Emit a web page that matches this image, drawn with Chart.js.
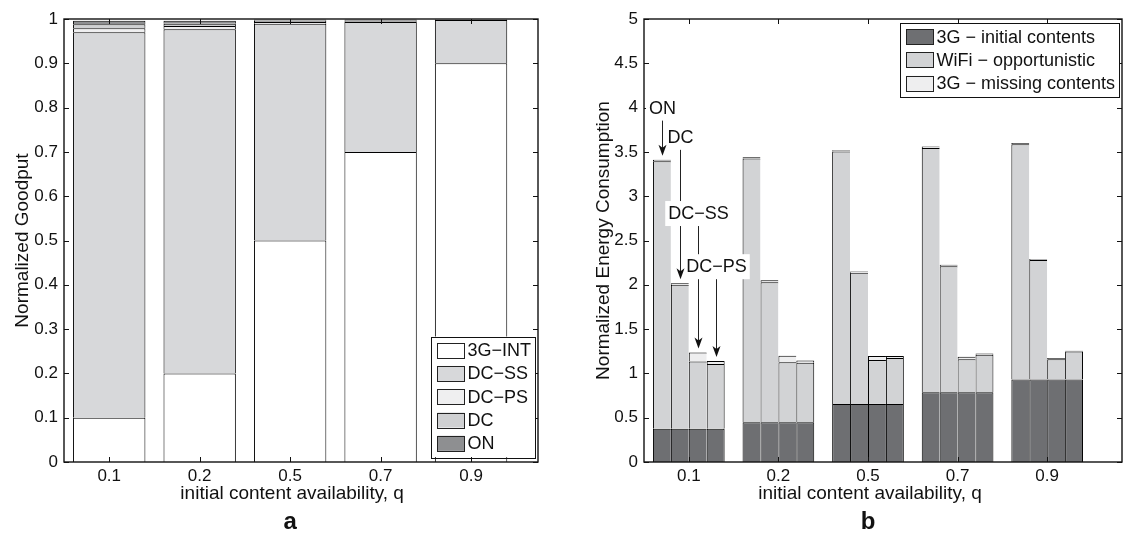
<!DOCTYPE html>
<html>
<head>
<meta charset="utf-8">
<script src="https://cdn.jsdelivr.net/npm/chart.js@4.4.1/dist/chart.umd.min.js"></script>
<style>
  html, body { margin: 0; padding: 0; background: #fff; overflow: hidden; }
  body { width: 1130px; height: 543px; position: relative; }
  canvas { position: absolute; top: 0; }
  #goodput { left: 0; }
  #energy { left: 560px; }
</style>
</head>
<body>
<canvas id="goodput" width="560" height="543"></canvas>
<canvas id="energy" width="570" height="543"></canvas>
<script>
const FONT = '"Liberation Sans", Arial, Helvetica, sans-serif';
const INK = '#111';

const qLabels = ['0.1', '0.2', '0.5', '0.7', '0.9'];
const xTitle = 'initial content availability, q';

// (a) normalized goodput, stacked bottom to top
const goodputSeries = ['3G\u2212INT', 'DC\u2212SS', 'DC\u2212PS', 'DC', 'ON'];
const gp3gInt = [0.1, 0.2, 0.5, 0.7, 0.9];
const gpDcSs  = [0.870, 0.777, 0.489, 0.293, 0.098];
const gpDcPs  = [0.009, 0.007, 0.004, 0.002, 0.001];
const gpDc    = [0.009, 0.005, 0.003, 0.002, 0.0005];
const gpOn    = [0.008, 0.007, 0.003, 0.002, 0.0005];
const gpColors = ['#ffffff', '#d7d8da', '#efeff0', '#cfd0d2', '#8e8f91'];

// (b) normalized energy, one stacked bar per scheme in each group
const schemes = ['ON', 'DC', 'DC\u2212SS', 'DC\u2212PS'];
const energyParts = ['3G \u2212 initial contents', 'WiFi \u2212 opportunistic', '3G \u2212 missing contents'];
const initial3G = [0.376, 0.45, 0.656, 0.787, 0.93];
const wifiOn    = [3.019, 2.975, 2.849, 2.758, 2.655];
const wifiDc    = [1.624, 1.58, 1.481, 1.423, 1.35];
const wifiDcSs  = [0.759, 0.675, 0.494, 0.373, 0.23];
const wifiDcPs  = [0.729, 0.67, 0.517, 0.423, 0.317];
const missOn    = [0.015, 0.015, 0.015, 0.015, 0.015];
const missDc    = [0.017, 0.02, 0.013, 0.016, 0.01];
const missDcSs  = [0.1, 0.075, 0.045, 0.027, 0.013];
const missDcPs  = [0.035, 0.025, 0.022, 0.015, 0.008];
const energyColors = ['#6e6f72', '#d2d3d5', '#eeeeef'];

// arrow labels over the q = 0.1 group, height in data units
const arrowLabelY = [4.0, 3.67, 2.81, 2.21];

Chart.defaults.font.family = FONT;
Chart.defaults.color = INK;

// MATLAB-style box: frame plus inward ticks on all four sides
const axesBox = {
  id: 'axesBox',
  afterDatasetsDraw(chart) {
    const {ctx, chartArea: a, scales: {x, y}} = chart;
    const L = 5;
    ctx.save();
    ctx.strokeStyle = '#111';
    ctx.lineWidth = 1;
    ctx.beginPath();
    x.ticks.forEach(t => {
      const px = Math.round(x.getPixelForValue(t.value)) + 0.5;
      ctx.moveTo(px, a.bottom); ctx.lineTo(px, a.bottom - L);
      ctx.moveTo(px, a.top); ctx.lineTo(px, a.top + L);
    });
    y.ticks.forEach(t => {
      const py = Math.round(y.getPixelForValue(t.value)) + 0.5;
      ctx.moveTo(a.left, py); ctx.lineTo(a.left + L, py);
      ctx.moveTo(a.right, py); ctx.lineTo(a.right - L, py);
    });
    ctx.stroke();
    ctx.lineWidth = 1.4;
    ctx.strokeRect(a.left, a.top, a.right - a.left, a.bottom - a.top);
    ctx.restore();
  }
};

// boxed legend inside the axes
const boxLegend = {
  id: 'boxLegend',
  afterDraw(chart, args, opts) {
    const {ctx, chartArea: a} = chart;
    const items = opts.items;
    const rowH = 23.3, sw = 27, sh = 15;
    ctx.save();
    ctx.font = '18px ' + FONT;
    const tw = Math.max(...items.map(it => ctx.measureText(it.label).width));
    const w = 6 + sw + 3 + tw + 4;
    const h = items.length * rowH + 4;
    const x0 = a.right - 3 - w;
    const y0 = opts.corner === 'ne' ? a.top + 4 : a.bottom - 5 - h;
    ctx.fillStyle = '#fff';
    ctx.fillRect(x0, y0, w, h);
    ctx.strokeStyle = '#111';
    ctx.lineWidth = 1;
    ctx.strokeRect(Math.round(x0) + 0.5, Math.round(y0) + 0.5, Math.round(w), Math.round(h));
    items.forEach((it, i) => {
      const cy = y0 + 2 + rowH * (i + 0.5);
      ctx.fillStyle = it.color;
      ctx.fillRect(x0 + 6, cy - sh / 2, sw, sh);
      ctx.strokeStyle = '#222';
      ctx.strokeRect(Math.round(x0 + 6) + 0.5, Math.round(cy - sh / 2) + 0.5, sw, sh);
      ctx.fillStyle = INK;
      ctx.textAlign = 'left';
      ctx.textBaseline = 'middle';
      ctx.fillText(it.label, x0 + 6 + sw + 3, cy + 1);
    });
    ctx.restore();
  }
};

// x-axis title and bold panel letter, centred on the middle category
const panelText = {
  id: 'panelText',
  afterDraw(chart, args, opts) {
    const {ctx, scales: {x}} = chart;
    const cx = x.getPixelForValue((qLabels.length + 1) / 2);
    ctx.save();
    ctx.fillStyle = INK;
    ctx.textAlign = 'center';
    ctx.textBaseline = 'middle';
    ctx.font = '19px ' + FONT;
    ctx.fillText(xTitle, cx + 2, 494);
    ctx.textBaseline = 'alphabetic';
    ctx.font = 'bold 24px ' + FONT;
    ctx.fillText(opts.text, cx, 529);
    ctx.restore();
  }
};

// labelled arrows pointing at each scheme's bar in the first group
const schemeArrows = {
  id: 'schemeArrows',
  afterDraw(chart) {
    const {ctx, scales: {y}} = chart;
    const marks = schemes.map((s, k) => {
      const bar = chart.getDatasetMeta(k * 3 + 2).data[0];
      return {x: Math.round(bar.x) + 0.5, top: bar.y, ly: y.getPixelForValue(arrowLabelY[k]), text: s};
    });
    ctx.save();
    ctx.font = '18px ' + FONT;
    ctx.strokeStyle = '#222';
    ctx.lineWidth = 1;
    marks.forEach(m => {
      ctx.beginPath();
      ctx.moveTo(m.x, m.ly + 11);
      ctx.lineTo(m.x, m.top - 9);
      ctx.stroke();
    });
    marks.forEach(m => {
      const w = ctx.measureText(m.text).width + 6;
      ctx.fillStyle = '#fff';
      ctx.fillRect(m.x - w / 2, m.ly - 12, w, 25);
      ctx.fillStyle = INK;
      ctx.textAlign = 'center';
      ctx.textBaseline = 'middle';
      ctx.fillText(m.text, m.x, m.ly + 1);
    });
    ctx.fillStyle = '#111';
    marks.forEach(m => {
      const tip = m.top - 4;
      ctx.beginPath();
      ctx.moveTo(m.x, tip);
      ctx.lineTo(m.x - 4, tip - 11);
      ctx.lineTo(m.x, tip - 8);
      ctx.lineTo(m.x + 4, tip - 11);
      ctx.closePath();
      ctx.fill();
    });
    ctx.restore();
  }
};

function xAxis(max) {
  return {
    type: 'linear', stacked: true, min: 0.5, max: max, offset: false,
    grid: { display: false, drawTicks: false },
    border: { display: false },
    afterBuildTicks: s => { s.ticks = qLabels.map((q, i) => ({ value: i + 1 })); },
    ticks: { padding: 4, font: { size: 17 }, color: INK, maxRotation: 0, autoSkip: false,
             callback: v => qLabels[v - 1] },
    afterFit: s => { s.height = 81; }
  };
}

function yAxis(max, step, title, width, titlePad) {
  return {
    stacked: true, min: 0, max: max,
    grid: { display: false, drawTicks: false },
    border: { display: false },
    ticks: { stepSize: step, padding: 6, font: { size: 17 }, color: INK,
             callback: v => String(Math.round(v * 10) / 10) },
    title: { display: true, text: title, color: INK, font: { size: 19 },
             padding: { top: titlePad, bottom: 0 } },
    afterFit: s => { s.width = width; }
  };
}

const barStyle = {
  borderColor: '#000',
  borderSkipped: false,
  categoryPercentage: 0.8,
  barPercentage: 1
};

const points = vals => vals.map((v, i) => ({ x: i + 1, y: v }));

const goodputDatasets = [gp3gInt, gpDcSs, gpDcPs, gpDc, gpOn].map((vals, i) => Object.assign({
  label: goodputSeries[i],
  data: points(vals),
  backgroundColor: gpColors[i],
  borderWidth: { top: 1, left: 1, right: 1, bottom: 0 }
}, barStyle));

new Chart(document.getElementById('goodput'), {
  type: 'bar',
  data: { datasets: goodputDatasets },
  options: {
    responsive: false,
    animation: false,
    devicePixelRatio: 1,
    layout: { padding: { top: 19, right: 22, left: 0, bottom: 0 } },
    scales: { x: xAxis(5.74), y: yAxis(1, 0.1, 'Normalized Goodput', 64, 11.5) },
    plugins: {
      legend: { display: false },
      tooltip: { enabled: false },
      boxLegend: { corner: 'se', items: goodputSeries.map((l, i) => ({ label: l, color: gpColors[i] })) },
      panelText: { text: 'a' }
    }
  },
  plugins: [axesBox, boxLegend, panelText]
});

const wifiByScheme = [wifiOn, wifiDc, wifiDcSs, wifiDcPs];
const missByScheme = [missOn, missDc, missDcSs, missDcPs];
const energyDatasets = [];
schemes.forEach((s, k) => {
  [initial3G, wifiByScheme[k], missByScheme[k]].forEach((vals, c) => {
    energyDatasets.push(Object.assign({
      label: energyParts[c],
      stack: s,
      data: points(vals),
      backgroundColor: energyColors[c],
      borderWidth: { top: 1, left: 1, right: k === schemes.length - 1 ? 1 : 0, bottom: 0 }
    }, barStyle));
  });
});

new Chart(document.getElementById('energy'), {
  type: 'bar',
  data: { datasets: energyDatasets },
  options: {
    responsive: false,
    animation: false,
    devicePixelRatio: 1,
    layout: { padding: { top: 19, right: 8, left: 0, bottom: 0 } },
    scales: { x: xAxis(5.835), y: yAxis(5, 0.5, 'Normalized Energy Consumption', 84, 32.5) },
    plugins: {
      legend: { display: false },
      tooltip: { enabled: false },
      boxLegend: { corner: 'ne', items: energyParts.map((l, i) => ({ label: l, color: energyColors[i] })) },
      panelText: { text: 'b' }
    }
  },
  plugins: [axesBox, schemeArrows, boxLegend, panelText]
});
</script>
</body>
</html>
